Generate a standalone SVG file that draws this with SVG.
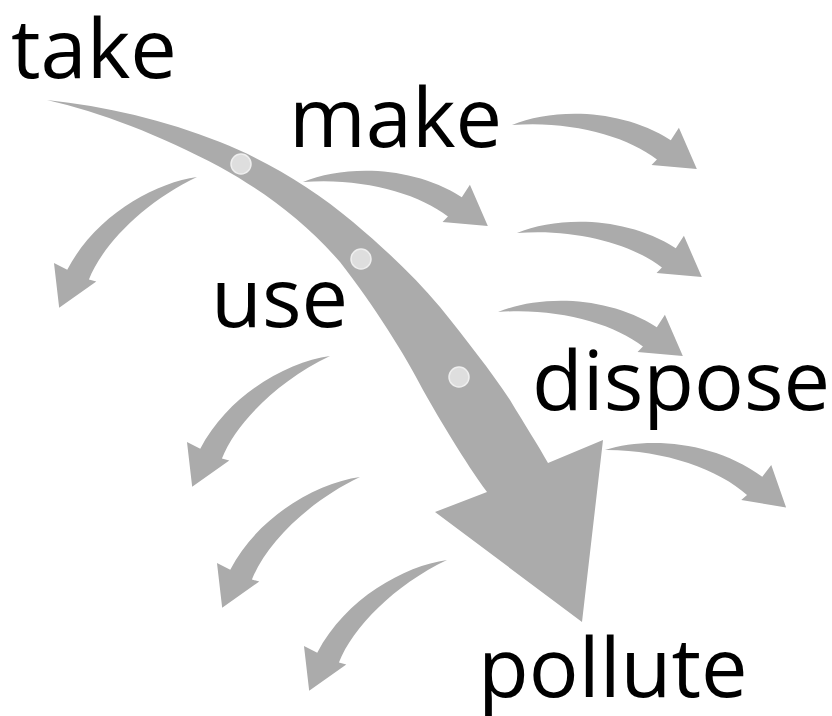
<svg xmlns="http://www.w3.org/2000/svg" xmlns:xlink="http://www.w3.org/1999/xlink" width="832" height="716" viewBox="0 0 832 716">
<defs>
<style>
.arr{fill:#ababab;}
.dot{fill:#dedede;stroke:#efefef;stroke-width:1.5;}
.lbl{font-family:"Open Sans","Noto Sans","DejaVu Sans",sans-serif;font-size:83px;fill:#000;}
</style>
<path id="sa" d="M0,0 C35,-25 100,-42 158,-22 L163,-36 L190,0 L145,6.5 L149,0 C115,-16 55,-18 0,0 Z"/>
</defs>
<rect width="832" height="716" fill="#fff"/>
<g id="connectors">
<path id="main-flow" class="arr" d="M47,100 C105,106 165,120 220,142 C270,162 315,190 353,222 C385,249 415,277 440,307 C468,342 490,370 510,400 C525,425 538,445 548,463 L603,440 L582,622 L435,512 L487,492 C465,462 440,420 423,390 C405,355 375,307 340,262 C305,222 265,192 220,167 C160,135 100,112 47,100 Z"/>
<circle class="dot" cx="241" cy="164" r="10"/>
<circle class="dot" cx="361" cy="259" r="10"/>
<circle class="dot" cx="459" cy="377" r="10"/>
<use class="arr" xlink:href="#sa" transform="translate(303,182) rotate(13.4)"/>
<use class="arr" xlink:href="#sa" transform="translate(512,125) rotate(13.4)"/>
<use class="arr" xlink:href="#sa" transform="translate(517,233) rotate(13.4)"/>
<use class="arr" xlink:href="#sa" transform="translate(498,312) rotate(13.4)"/>
<use class="arr" xlink:href="#sa" transform="translate(605,450) rotate(17.6)"/>
<use class="arr" xlink:href="#sa" transform="translate(197,177) rotate(136.5) scale(1,-1)"/>
<use class="arr" xlink:href="#sa" transform="translate(330,356) rotate(136.5) scale(1,-1)"/>
<use class="arr" xlink:href="#sa" transform="translate(360,477) rotate(136.5) scale(1,-1)"/>
<use class="arr" xlink:href="#sa" transform="translate(447,560) rotate(136.5) scale(1,-1)"/>
</g>
<g id="take"><text class="lbl" x="11" y="78">take</text></g>
<g id="make"><text class="lbl" x="289" y="147">make</text></g>
<g id="use"><text class="lbl" x="211" y="327">use</text></g>
<g id="dispose"><text class="lbl" x="532" y="410">dispose</text></g>
<g id="pollute"><text class="lbl" x="478" y="697">pollute</text></g>
</svg>
